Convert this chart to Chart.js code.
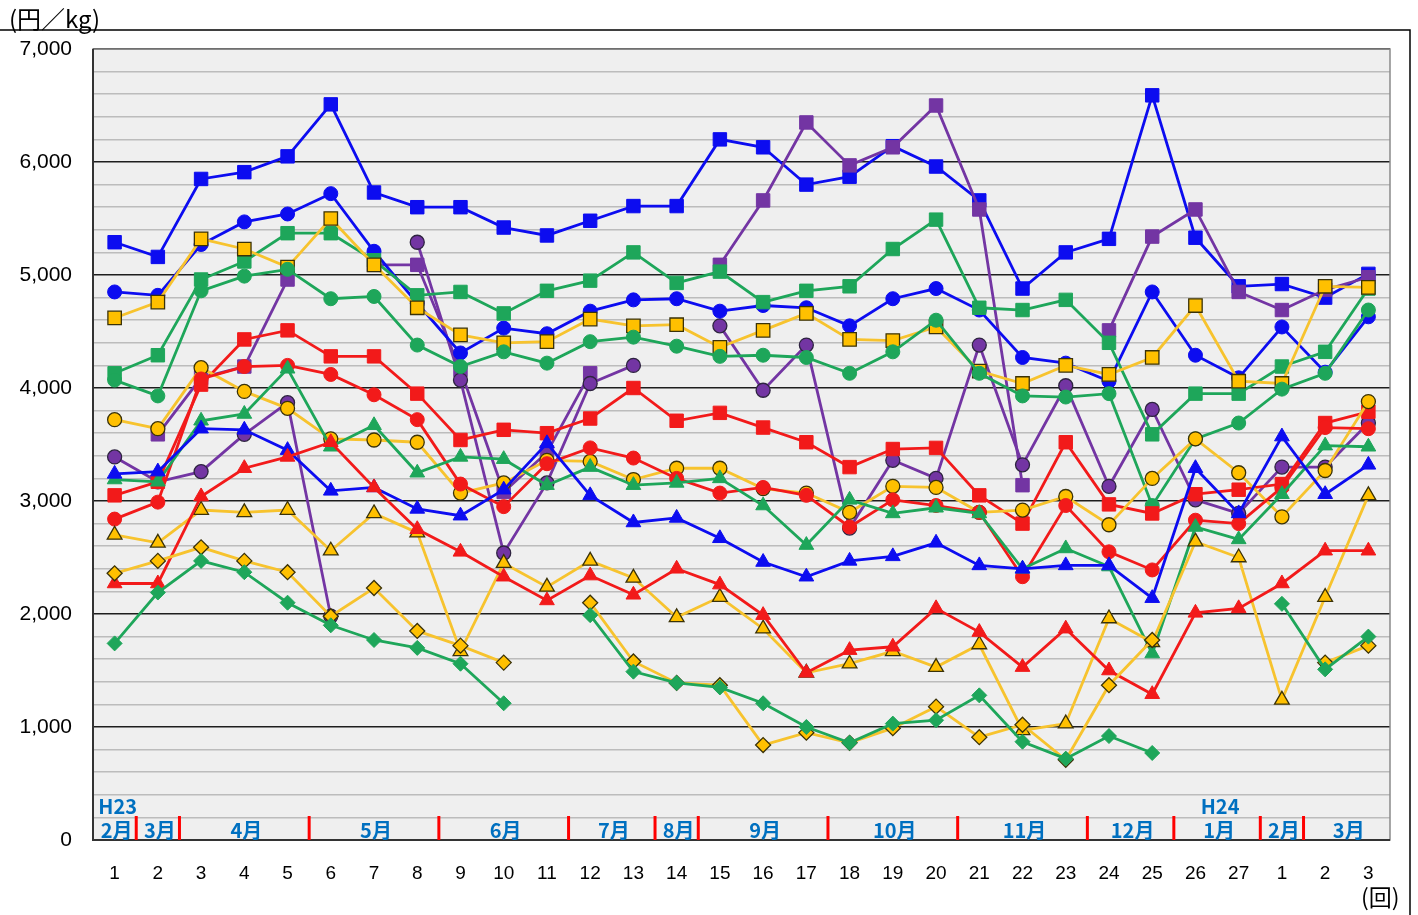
<!DOCTYPE html>
<html>
<head>
<meta charset="utf-8">
<script src="https://cdn.jsdelivr.net/npm/chart.js@4.4.1/dist/chart.umd.min.js"></script>
<style>
  body { margin: 0; background: #fff; }
  #wrap { width: 1418px; height: 915px; }
</style>
</head>
<body>
<div id="wrap"><canvas id="chart" width="1418" height="915"></canvas></div>
<script>
// x categories (回)
const rounds = ['1','2','3','4','5','6','7','8','9','10','11','12','13','14','15','16','17','18','19','20','21','22','23','24','25','26','27','1','2','3'];

// month band under the plot
const monthNames = ['2月','3月','4月','5月','6月','7月','8月','9月','10月','11月','12月','1月','2月','3月'];
const monthStart = [0, 1, 2, 5, 8, 11, 13, 14, 17, 20, 23, 25, 27, 28];
const monthEnd   = [0, 1, 4, 7, 10, 12, 13, 16, 19, 22, 24, 26, 27, 29];
const eraNames = ['H23', 'H24'];
const eraAt = [0, 25.5];

// series values (円/kg)
const blueSq   = [5290,5160,5850,5910,6050,6510,5730,5600,5600,5420,5350,5480,5610,5610,6200,6130,5800,5870,6140,5960,5660,4880,5200,5320,6590,5330,4900,4920,4800,5010];
const blueCir  = [4850,4820,5270,5470,5540,5720,5210,4750,4310,4530,4480,4680,4780,4790,4680,4730,4710,4550,4790,4880,4690,4270,4220,4060,4850,4290,4090,4540,4140,4630];
const blueTri  = [3240,3260,3640,3630,3450,3090,3120,2930,2870,3100,3510,3050,2810,2850,2670,2460,2330,2470,2510,2630,2430,2400,2430,2430,2140,3290,2890,3570,3060,3320];
const greenSq  = [4130,4290,4960,5120,5370,5370,5130,4820,4850,4660,4860,4950,5200,4930,5030,4760,4860,4900,5230,5490,4710,4690,4780,4400,3590,3950,3950,4190,4320,4880];
const greenCir = [4070,3930,4860,4990,5050,4790,4810,4380,4190,4320,4220,4410,4450,4370,4280,4290,4270,4130,4320,4600,4130,3930,3920,3950,2960,3550,3690,3990,4130,4690];
const greenTri = [3190,3170,3710,3770,4170,3480,3670,3250,3390,3370,3140,3300,3140,3160,3200,2960,2610,3010,2890,2940,2890,2400,2580,2420,1650,2770,2660,3060,3490,3480];
const greenDia = [1740,2190,2470,2370,2100,1900,1770,1700,1560,1210,null,1990,1490,1390,1350,1210,1000,860,1030,1060,1280,870,720,920,770,null,null,2090,1510,1800];
const goldSq   = [4620,4760,5320,5230,5070,5500,5090,4710,4470,4400,4410,4610,4550,4560,4360,4510,4660,4430,4420,4540,4150,4040,4200,4120,4270,4730,4060,4040,4900,4890];
const goldCir  = [3720,3640,4180,3970,3820,3550,3540,3520,3070,3160,3360,3350,3190,3290,3290,3110,3070,2900,3130,3120,2900,2920,3040,2790,3200,3550,3250,2860,3270,3880];
const goldTri  = [2700,2630,2920,2900,2920,2560,2890,2720,1670,2450,2240,2470,2320,1970,2150,1870,1480,1560,1670,1530,1730,970,1030,1960,1750,2640,2500,1240,2150,3050];
const goldDia  = [2360,2470,2590,2470,2370,1980,2230,1850,1720,1570,null,2100,1580,1390,1370,840,950,860,990,1180,910,1020,710,1370,1770,null,null,null,1570,1720];
const redSq    = [3050,3170,4030,4430,4510,4280,4280,3950,3540,3630,3600,3730,4000,3710,3780,3650,3520,3300,3460,3470,3050,2800,3520,2970,2890,3060,3100,3150,3690,3790];
const redCir   = [2840,2990,4080,4190,4200,4120,3940,3720,3150,2950,3330,3470,3380,3200,3070,3120,3050,2770,3010,2960,2900,2330,2960,2550,2390,2830,2800,3120,3650,3640];
const redTri   = [2270,2270,3040,3290,3390,3520,3120,2750,2550,2330,2120,2340,2170,2400,2260,1990,1480,1680,1710,2050,1840,1530,1870,1500,1290,2010,2050,2270,2560,2560];
const purpleSq = [null,3590,4090,4190,4960,null,5090,5090,4160,3080,3430,4130,null,null,5090,5660,6350,5970,6130,6500,5580,3140,null,4510,5340,5580,4850,4690,4870,4980];
const purpleCir= [3390,3170,3260,3590,3870,1980,null,5290,4070,2540,3160,4040,4200,null,4550,3980,4380,2760,3360,3200,4380,3320,4020,3130,3810,3010,2890,3300,3300,3690];

const BLUE = '#0c0cf0', GREEN = '#1ea65a', GOLD = '#f7c32e', GOLDFILL = '#ffc000', RED = '#f21a1a', PURPLE = '#7335a3';
const EDGE = '#3a3208';

const sizes = { rect: 9.5, circle: 7, triangle: 8.5, rectRot: 7.5 };

function series(data, color, style, fill, edge) {
  return {
    data: data,
    borderColor: color,
    borderWidth: 2.8,
    pointStyle: style,
    pointRadius: sizes[style],
    pointBackgroundColor: fill || color,
    pointBorderColor: edge || color,
    pointBorderWidth: edge ? 1.3 : 1,
    spanGaps: false,
    tension: 0
  };
}

const datasets = [
  series(greenDia, GREEN, 'rectRot'),
  series(goldDia, GOLD, 'rectRot', GOLDFILL, EDGE),
  series(redTri, RED, 'triangle'),
  series(goldTri, GOLD, 'triangle', GOLDFILL, EDGE),
  series(blueTri, BLUE, 'triangle'),
  series(greenTri, GREEN, 'triangle'),
  series(redCir, RED, 'circle'),
  series(goldCir, GOLD, 'circle', GOLDFILL, EDGE),
  series(redSq, RED, 'rect'),
  series(greenCir, GREEN, 'circle'),
  series(goldSq, GOLD, 'rect', GOLDFILL, EDGE),
  series(greenSq, GREEN, 'rect'),
  series(blueCir, BLUE, 'circle'),
  series(purpleCir, PURPLE, 'circle', PURPLE, '#2e2440'),
  series(purpleSq, PURPLE, 'rect'),
  series(blueSq, BLUE, 'rect')
];

const frame = {
  id: 'frame',
  beforeDraw(chart) {
    const { ctx, chartArea: a } = chart;
    ctx.save();
    ctx.fillStyle = '#ffffff';
    ctx.fillRect(0, 0, chart.width, chart.height);
    ctx.fillStyle = '#efefef';
    ctx.fillRect(a.left, a.top, a.right - a.left, a.bottom - a.top);
    ctx.restore();
  },
  beforeDatasetsDraw(chart) {
    const { ctx, chartArea: a, scales: { x } } = chart;
    ctx.save();
    // plot border
    ctx.strokeStyle = '#8a8a8a';
    ctx.lineWidth = 1.5;
    ctx.strokeRect(a.left, a.top, a.right - a.left, a.bottom - a.top);
    ctx.strokeStyle = '#333';
    ctx.lineWidth = 2;
    ctx.beginPath();
    ctx.moveTo(a.left, a.top); ctx.lineTo(a.left, a.bottom); ctx.lineTo(a.right, a.bottom);
    ctx.stroke();

    // month separators
    ctx.strokeStyle = '#ff0000';
    ctx.lineWidth = 3;
    for (let i = 0; i < monthEnd.length - 1; i++) {
      const px = x.getPixelForValue(monthEnd[i] + 0.5);
      ctx.beginPath();
      ctx.moveTo(px, a.bottom - 24);
      ctx.lineTo(px, a.bottom);
      ctx.stroke();
    }
    // month names
    ctx.fillStyle = '#0070c0';
    ctx.font = 'bold 20px "Noto Sans CJK JP", "Noto Sans", sans-serif';
    ctx.textAlign = 'center';
    ctx.textBaseline = 'middle';
    monthNames.forEach((m, i) => {
      const px = x.getPixelForValue((monthStart[i] + monthEnd[i]) / 2);
      ctx.fillText(m, px + 2, a.bottom - 10);
    });
    eraNames.forEach((e, i) => {
      ctx.fillText(e, x.getPixelForValue(eraAt[i]) + 3, a.bottom - 34);
    });
    ctx.restore();
  },
  afterDraw(chart) {
    const { ctx } = chart;
    ctx.save();
    ctx.strokeStyle = '#000';
    ctx.lineWidth = 1.5;
    ctx.beginPath();
    ctx.moveTo(0, 30); ctx.lineTo(1410, 30); ctx.lineTo(1410, 915);
    ctx.stroke();
    ctx.fillStyle = '#000';
    ctx.font = '24px "Noto Sans CJK JP", "Noto Sans", sans-serif';
    ctx.textBaseline = 'middle';
    ctx.textAlign = 'left';
    ctx.fillText('(円／kg)', 9, 19);
    ctx.font = '23px "Noto Sans CJK JP", "Noto Sans", sans-serif';
    ctx.fillText('(回)', 1361, 897);
    ctx.restore();
  }
};

new Chart(document.getElementById('chart'), {
  type: 'line',
  data: { labels: rounds, datasets: datasets },
  plugins: [frame],
  options: {
    responsive: false,
    animation: false,
    devicePixelRatio: 1,
    layout: { padding: { top: 49, right: 28, bottom: 0, left: 0 } },
    plugins: { legend: { display: false }, tooltip: { enabled: false } },
    scales: {
      x: {
        type: 'category',
        offset: true,
        grid: { display: false, drawTicks: false },
        border: { display: false },
        ticks: {
          color: '#000',
          padding: 22,
          maxRotation: 0,
          autoSkip: false,
          font: { family: '"Liberation Sans", Arial, sans-serif', size: 19 }
        },
        afterFit(s) { s.height = 75; }
      },
      y: {
        min: 0,
        max: 7000,
        border: { display: false },
        grid: {
          drawTicks: false,
          color: (c) => c.tick && c.tick.value % 1000 === 0 ? '#1e1e1e' : '#bcbcbc',
          lineWidth: 1.6
        },
        ticks: {
          stepSize: 200,
          autoSkip: false,
          padding: 21,
          color: '#000',
          font: { family: '"Liberation Sans", Arial, sans-serif', size: 21 },
          callback: (v) => v % 1000 === 0 ? v.toLocaleString('en-US') : ''
        },
        afterFit(s) { s.width = 93; }
      }
    }
  }
});
</script>
</body>
</html>
